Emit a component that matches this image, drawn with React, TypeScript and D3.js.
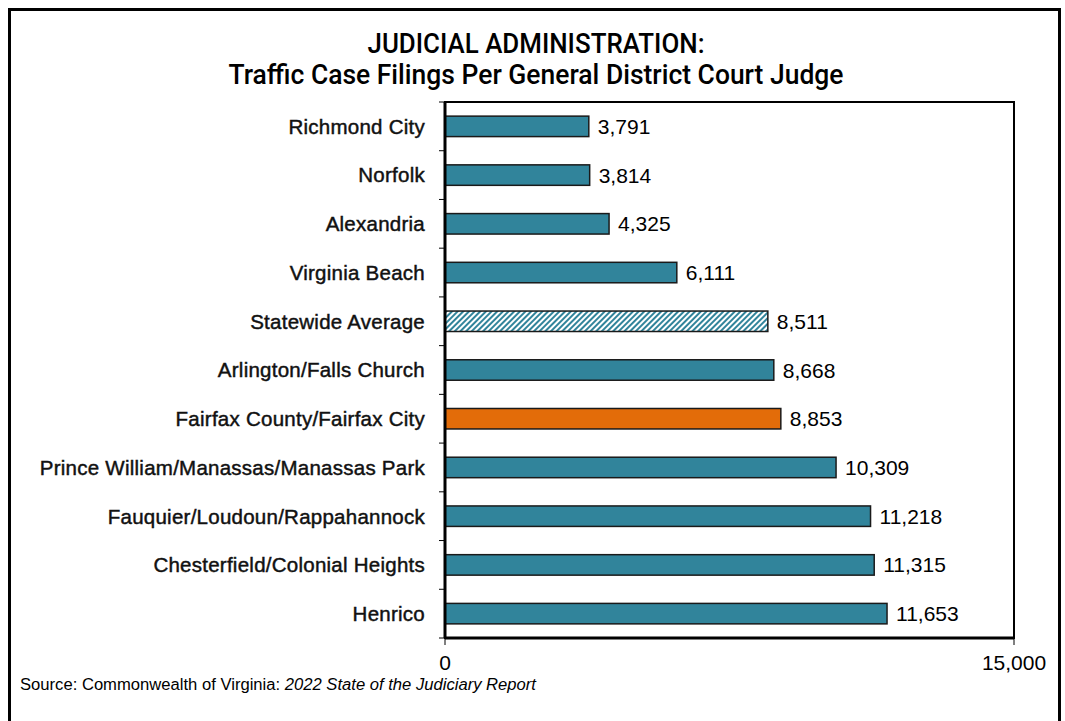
import React from 'react';
import * as d3 from 'd3';

const categories = [
  'Richmond City',
  'Norfolk',
  'Alexandria',
  'Virginia Beach',
  'Statewide Average',
  'Arlington/Falls Church',
  'Fairfax County/Fairfax City',
  'Prince William/Manassas/Manassas Park',
  'Fauquier/Loudoun/Rappahannock',
  'Chesterfield/Colonial Heights',
  'Henrico',
];
const filings = [3791, 3814, 4325, 6111, 8511, 8668, 8853, 10309, 11218, 11315, 11653];
const xTicks = [0, 15000];

const TEAL = '#31849b';
const ORANGE = '#e36c09';
const sans = '"Liberation Sans", Arial, sans-serif';
const titleFont = 'Roboto, "Liberation Sans", sans-serif';

export default function App() {
  const width = 1065;
  const height = 721;
  const margin = { top: 102, right: 51, bottom: 83, left: 445 };
  const plotW = width - margin.left - margin.right;
  const plotH = height - margin.top - margin.bottom;

  const x = d3.scaleLinear().domain([0, 15000]).range([0, plotW]);
  const y = d3.scaleBand().domain(categories).range([0, plotH]).paddingInner(0.58).paddingOuter(0.29);
  const fmt = d3.format(',');

  function fillFor(name: string) {
    if (name === 'Statewide Average') return 'url(#hatch)';
    if (name.startsWith('Fairfax County')) return ORANGE;
    return TEAL;
  }

  return (
    <svg width={width} height={height} style={{ position: 'absolute', left: 0, top: 0, background: '#fff' }}>
      <defs>
        <pattern id="hatch" width="4" height="4" patternUnits="userSpaceOnUse" patternTransform="rotate(45)">
          <rect width="4" height="4" fill="#ffffff" />
          <rect width="2" height="4" fill={TEAL} />
        </pattern>
      </defs>
      <rect x={9.5} y={9.5} width={1050} height={720} fill="none" stroke="#000" strokeWidth={3} />

      <text x={536} y={53} textAnchor="middle" fontFamily={titleFont} fontWeight={500} fontSize={27}
        textLength={337} lengthAdjust="spacingAndGlyphs" fill="#000">
        JUDICIAL ADMINISTRATION:
      </text>
      <text x={536} y={84} textAnchor="middle" fontFamily={titleFont} fontWeight={500} fontSize={27}
        textLength={615} lengthAdjust="spacingAndGlyphs" fill="#000">
        Traffic Case Filings Per General District Court Judge
      </text>

      <g transform={`translate(${margin.left},${margin.top})`}>
        <rect x={0} y={0} width={plotW} height={plotH} fill="none" stroke="#000" strokeWidth={2} />
        {categories.map((c, i) => (
          <g key={c}>
            <rect
              x={0}
              y={y(c)}
              width={x(filings[i])}
              height={y.bandwidth()}
              fill={fillFor(c)}
              stroke="#1a1a1a"
              strokeWidth={1.5}
            />
            <text
              x={x(filings[i]) + 9}
              y={(y(c) as number) + y.bandwidth() / 2}
              dy="0.36em"
              fontFamily={sans}
              fontSize={21}
              fill="#000"
            >
              {fmt(filings[i])}
            </text>
            <text
              x={-20}
              y={(y(c) as number) + y.bandwidth() / 2}
              dy="0.36em"
              textAnchor="end"
              fontFamily={sans}
              fontSize={20.5}
              letterSpacing={0.25}
              fill="#111"
              stroke="#111"
              strokeWidth={0.45}
            >
              {c}
            </text>
          </g>
        ))}
        {d3.range(categories.length + 1).map((i) => (
          <line key={i} x1={-6} x2={0} y1={(i * plotH) / categories.length} y2={(i * plotH) / categories.length} stroke="#000" strokeWidth={1} />
        ))}
        <line x1={0} x2={0} y1={0} y2={plotH} stroke="#000" strokeWidth={3} />
        <line x1={0} x2={plotW} y1={plotH} y2={plotH} stroke="#000" strokeWidth={3} />
        {xTicks.map((t) => (
          <g key={t} transform={`translate(${x(t)},${plotH})`}>
            <line y1={0} y2={7} stroke="#000" strokeWidth={1} />
            <text y={32} textAnchor="middle" fontFamily={sans} fontSize={21} fill="#000">
              {fmt(t)}
            </text>
          </g>
        ))}
      </g>

      <text x={20} y={690} fontFamily={sans} fontSize={16} fill="#000" textLength={516} lengthAdjust="spacingAndGlyphs">
        Source: Commonwealth of Virginia: <tspan fontStyle="italic">2022 State of the Judiciary Report</tspan>
      </text>
    </svg>
  );
}
